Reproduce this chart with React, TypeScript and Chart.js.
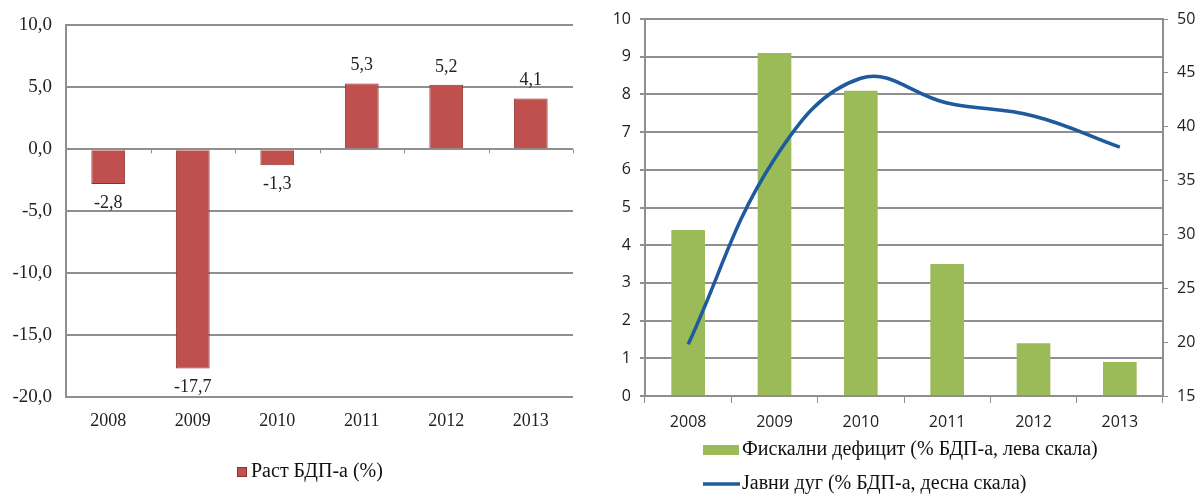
import React, { useEffect, useRef } from 'react';
import { Chart, registerables } from 'chart.js';

Chart.register(...registerables);

// ---- data ----
const years = ['2008', '2009', '2010', '2011', '2012', '2013'];
const gdpGrowth = [-2.8, -17.7, -1.3, 5.3, 5.2, 4.1];
const fiscalDeficit = [4.4, 9.1, 8.1, 3.5, 1.4, 0.9];
const publicDebt = [19.8, 37.0, 44.5, 42.2, 41.0, 38.1];

const gdpLabel = 'Раст БДП-а (%)';
const deficitLabel = 'Фискални дефицит (% БДП-а, лева скала)';
const debtLabel = 'Јавни дуг (% БДП-а, десна скала)';

const gdpAxis = { min: -20, max: 10, step: 5 };
const deficitAxis = { min: 0, max: 10, step: 1 };
const debtAxis = { min: 15, max: 50, step: 5 };

// ---- styles ----
const RED = '#c0504d';
const RED_EDGE = '#8e2f2c';
const GREEN = '#9bbb59';
const BLUE = '#1f5a9e';
const GRID = '#8f8f8f';
const SERIF = '"Liberation Serif", "Times New Roman", serif';
const SANS = '"Open Sans", "DejaVu Sans", sans-serif';

const fmt = (v: number) => v.toFixed(1).replace('.', ',');

const leftExtras = {
  id: 'leftExtras',
  afterDatasetsDraw(chart: any) {
    const ctx = chart.ctx;
    const xs = chart.scales.x;
    const ys = chart.scales.y;
    const y0 = ys.getPixelForValue(0);
    ctx.save();
    // small category ticks on the zero line
    ctx.strokeStyle = GRID;
    ctx.lineWidth = 1;
    const n = years.length;
    for (let i = 0; i <= n; i++) {
      const x = Math.round(xs.left + (xs.width * i) / n) + 0.5;
      ctx.beginPath();
      ctx.moveTo(x, y0);
      ctx.lineTo(x, y0 + 4);
      ctx.stroke();
    }
    // value labels
    ctx.font = `18px ${SERIF}`;
    ctx.fillStyle = '#222';
    ctx.textAlign = 'center';
    ctx.textBaseline = 'middle';
    const meta = chart.getDatasetMeta(0);
    meta.data.forEach((bar: any, i: number) => {
      const v = gdpGrowth[i];
      const y = v < 0 ? bar.y + 19 : bar.y - 18;
      ctx.fillText(fmt(v), bar.x, y);
    });
    ctx.restore();
  },
  afterDraw(chart: any) {
    const ctx = chart.ctx;
    const area = chart.chartArea;
    ctx.save();
    const bx = area.left + 171;
    const by = area.bottom + 70;
    ctx.fillStyle = RED;
    ctx.strokeStyle = RED_EDGE;
    ctx.lineWidth = 1;
    ctx.fillRect(bx, by, 10, 10);
    ctx.strokeRect(bx + 0.5, by + 0.5, 9, 9);
    ctx.font = `20px ${SERIF}`;
    ctx.fillStyle = '#111';
    ctx.textAlign = 'left';
    ctx.textBaseline = 'middle';
    ctx.fillText(gdpLabel, bx + 14, by + 5);
    ctx.restore();
  },
};

const rightExtras = {
  id: 'rightExtras',
  afterDraw(chart: any) {
    const ctx = chart.ctx;
    const area = chart.chartArea;
    ctx.save();
    const lx = area.left + 58;
    const y1 = area.bottom + 54;
    const y2 = area.bottom + 88;
    ctx.fillStyle = GREEN;
    ctx.fillRect(lx, y1 - 5, 36, 10);
    ctx.strokeStyle = BLUE;
    ctx.lineWidth = 3.5;
    ctx.beginPath();
    ctx.moveTo(lx, y2);
    ctx.lineTo(lx + 37, y2);
    ctx.stroke();
    ctx.font = `20px ${SERIF}`;
    ctx.fillStyle = '#111';
    ctx.textAlign = 'left';
    ctx.textBaseline = 'middle';
    ctx.fillText(deficitLabel, lx + 39, y1);
    ctx.fillText(debtLabel, lx + 39, y2);
    ctx.restore();
  },
};

export default function App() {
  const leftRef = useRef<HTMLCanvasElement>(null);
  const rightRef = useRef<HTMLCanvasElement>(null);

  useEffect(() => {
    const left = new Chart(leftRef.current as HTMLCanvasElement, {
      type: 'bar',
      data: {
        labels: years,
        datasets: [
          {
            label: gdpLabel,
            data: gdpGrowth,
            backgroundColor: RED,
            borderColor: RED_EDGE,
            borderWidth: 1,
            barPercentage: 0.4,
            categoryPercentage: 1,
          },
        ],
      },
      options: {
        responsive: false,
        animation: false,
        layout: { padding: { top: 22, right: 27, left: 0, bottom: 0 } },
        plugins: { legend: { display: false }, tooltip: { enabled: false } },
        scales: {
          x: {
            grid: { display: false, drawTicks: false },
            border: { display: false },
            ticks: { padding: 13, color: '#222', font: { family: SERIF, size: 18 } },
            afterFit: (s: any) => {
              s.height = 97;
            },
          },
          y: {
            min: gdpAxis.min,
            max: gdpAxis.max,
            ticks: {
              stepSize: gdpAxis.step,
              padding: 14,
              color: '#222',
              font: { family: SERIF, size: 19 },
              callback: (v: any) => fmt(Number(v)),
            },
            grid: { color: GRID, lineWidth: 2, drawTicks: false },
            border: { color: GRID, width: 2 },
            afterFit: (s: any) => {
              s.width = 66;
            },
          },
        },
      } as any,
      plugins: [leftExtras],
    });

    const right = new Chart(rightRef.current as HTMLCanvasElement, {
      type: 'bar',
      data: {
        labels: years,
        datasets: [
          {
            type: 'line',
            label: debtLabel,
            data: publicDebt,
            yAxisID: 'y1',
            borderColor: BLUE,
            borderWidth: 3.5,
            pointRadius: 0,
            tension: 0.4,
            fill: false,
            order: 0,
          } as any,
          {
            type: 'bar',
            label: deficitLabel,
            data: fiscalDeficit,
            yAxisID: 'y',
            backgroundColor: GREEN,
            barPercentage: 0.39,
            categoryPercentage: 1,
            order: 1,
          },
        ],
      },
      options: {
        responsive: false,
        animation: false,
        layout: { padding: { top: 19, right: 0, left: 0, bottom: 0 } },
        plugins: { legend: { display: false }, tooltip: { enabled: false } },
        scales: {
          x: {
            offset: true,
            grid: { display: true, drawOnChartArea: false, drawTicks: true, tickLength: 7, color: GRID, offset: true },
            border: { color: GRID, width: 2 },
            ticks: { padding: 10, color: '#222', font: { family: SANS, size: 16 } },
            afterFit: (s: any) => {
              s.height = 98;
            },
          },
          y: {
            position: 'left',
            min: deficitAxis.min,
            max: deficitAxis.max,
            ticks: { stepSize: deficitAxis.step, padding: 9, color: '#222', font: { family: SANS, size: 16 } },
            grid: { color: GRID, lineWidth: 2, tickLength: 5 },
            border: { color: GRID, width: 2 },
            afterFit: (s: any) => {
              s.width = 45;
            },
          },
          y1: {
            position: 'right',
            min: debtAxis.min,
            max: debtAxis.max,
            ticks: { stepSize: debtAxis.step, padding: 9, color: '#222', font: { family: SANS, size: 16 } },
            grid: { drawOnChartArea: false, tickLength: 5, color: GRID },
            border: { color: GRID, width: 2 },
            afterFit: (s: any) => {
              s.width = 39;
            },
          },
        },
      } as any,
      plugins: [rightExtras],
    });

    return () => {
      left.destroy();
      right.destroy();
    };
  }, []);

  return (
    <div style={{ position: 'absolute', left: 0, top: 0, width: 1202, height: 494, background: '#fff' }}>
      <canvas ref={leftRef} width={600} height={494} style={{ position: 'absolute', left: 0, top: 0 }} />
      <canvas ref={rightRef} width={602} height={494} style={{ position: 'absolute', left: 600, top: 0 }} />
    </div>
  );
}
